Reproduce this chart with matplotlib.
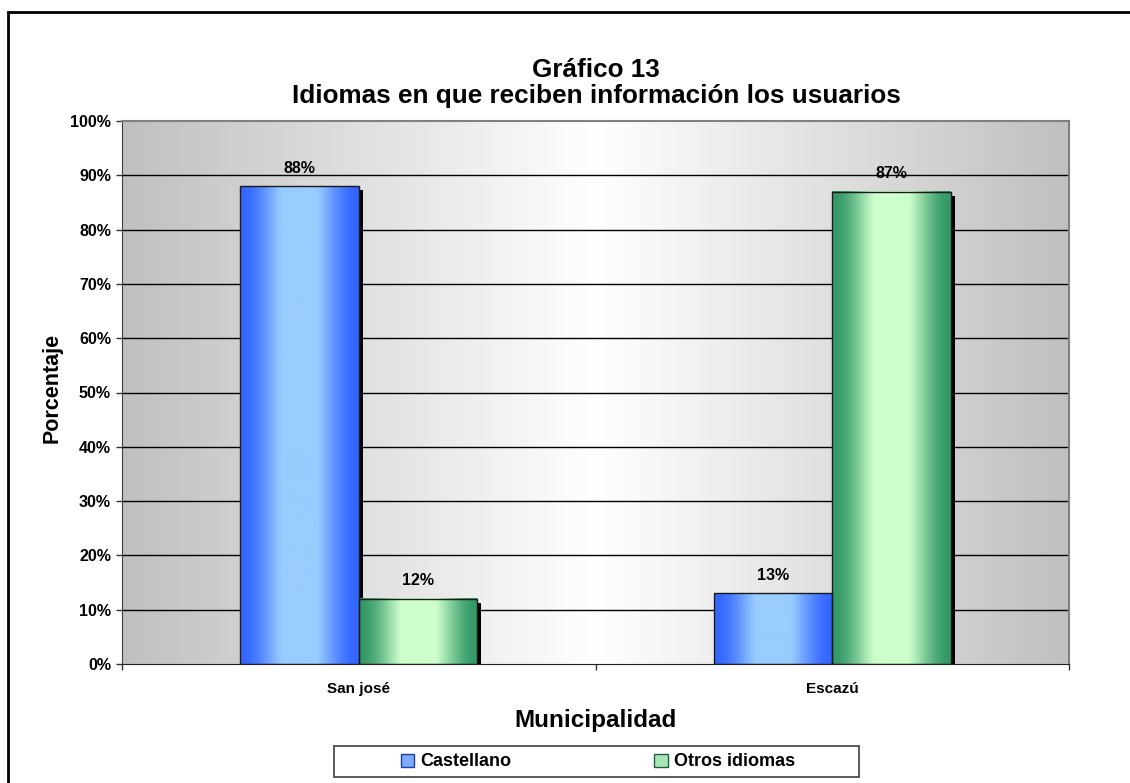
import numpy as np
import matplotlib
matplotlib.use("Agg")
import matplotlib.pyplot as plt
from matplotlib.patches import Rectangle
from matplotlib.colors import LinearSegmentedColormap
import matplotlib.transforms as mtransforms

plt.rcParams['font.family'] = ['Liberation Sans', 'DejaVu Sans']
plt.rcParams['font.weight'] = 'bold'

# ---- data ----
categories = ["San josé", "Escazú"]
series_names = ["Castellano", "Otros idiomas"]
castellano = [88, 13]
otros = [12, 87]
yticks = [0, 10, 20, 30, 40, 50, 60, 70, 80, 90, 100]

W, H = 1130, 783
fig = plt.figure(figsize=(W / 100, H / 100), dpi=100)
fig.patch.set_facecolor('white')

ax = fig.add_axes([122 / W, (H - 664) / H, 947 / W, 543 / H])
ax.set_xlim(-0.5, 1.5)
ax.set_ylim(0, 100)

# background gradient (gray edges, white center)
bg = LinearSegmentedColormap.from_list('bg', ['#C0C0C0', '#FFFFFF', '#C0C0C0'])
grad = np.linspace(0, 1, 512).reshape(1, -1)
ax.imshow(grad, cmap=bg, extent=[-0.5, 1.5, 0, 100], aspect='auto', zorder=0,
          interpolation='bicubic')

# gridlines
for v in yticks[1:-1]:
    ax.axhline(v, color='black', lw=1.0, zorder=1)

bar_w = 0.25
x = np.arange(len(categories))
colors = [('#3366FF', '#99CCFF'), ('#339966', '#CCFFCC')]
series = [castellano, otros]
offsets = [-bar_w / 2, bar_w / 2]

shadow_tr = ax.transData + mtransforms.ScaledTranslation(4 / 100, -4 / 100, fig.dpi_scale_trans)

prof = np.linspace(0, 1, 256)
prof = 0.5 - 0.5 * np.cos(2 * np.pi * prof)
prof = np.clip(prof * 1.25, 0, 1).reshape(1, -1)

for s, vals in enumerate(series):
    cmap = LinearSegmentedColormap.from_list('c%d' % s, list(colors[s]))
    bars = ax.bar(x + offsets[s], vals, width=bar_w, facecolor='none',
                  edgecolor='#1a1a1a', lw=1.0, zorder=4)
    for b in bars:
        bx, by, bw, bh = b.get_x(), b.get_y(), b.get_width(), b.get_height()
        sh = Rectangle((bx, by), bw, bh, facecolor='black', edgecolor='none',
                       transform=shadow_tr, zorder=2)
        ax.add_patch(sh)
        sh.set_clip_box(ax.bbox)
        ax.imshow(prof, cmap=cmap, vmin=0, vmax=1, extent=[bx, bx + bw, by, by + bh],
                  aspect='auto', zorder=3, interpolation='bicubic')
        ax.annotate(f"{bh:.0f}%", (bx + bw / 2, by + bh), xytext=(0, 13),
                    textcoords='offset points', ha='center', va='center',
                    fontsize=11.5, fontweight='bold')

ax.set_xlim(-0.5, 1.5)
ax.set_ylim(0, 100)

# axes
ax.set_yticks(yticks)
ax.set_yticklabels([f"{v}%" for v in yticks], fontsize=11.5, fontweight='bold')
ax.set_xticks([-0.5, 0.5, 1.5])
ax.set_xticklabels([])
ax.set_xticks(x, minor=True)
ax.set_xticklabels(categories, minor=True, fontsize=11, fontweight='bold')
ax.tick_params(axis='x', which='minor', length=0, pad=13)
ax.tick_params(axis='both', which='major', direction='out', length=4, width=1,
               color='#333333', pad=4)
for sp in ['top', 'right']:
    ax.spines[sp].set_color('#808080')
    ax.spines[sp].set_linewidth(1.5)
ax.spines['left'].set_color('#404040')
ax.spines['bottom'].set_color('#202020')
ax.spines['bottom'].set_zorder(5)

ax.set_ylabel("Porcentaje", fontsize=15.5, fontweight='bold')
ax.yaxis.set_label_coords(-59 / 947, 0.508)
ax.set_xlabel("Municipalidad", fontsize=17.5, fontweight='bold', labelpad=9)

fig.text(596 / W, 1 - 77 / H, "Gráfico 13", ha='center', va='baseline',
         fontsize=18.8, fontweight='bold')
fig.text(596 / W, 1 - 103 / H, "Idiomas en que reciben información los usuarios",
         ha='center', va='baseline', fontsize=18.8, fontweight='bold')

# legend
handles = [Rectangle((0, 0), 1, 1, facecolor='#7FA8FF', edgecolor='#1F3F9F'),
           Rectangle((0, 0), 1, 1, facecolor='#A8E6B8', edgecolor='#1F5F3F')]
leg = fig.legend(handles, series_names, ncol=2, loc='center',
                 bbox_to_anchor=(598 / W, 1 - 762 / H),
                 bbox_transform=fig.transFigure, frameon=False,
                 handlelength=0.75, handleheight=0.75, handletextpad=0.35,
                 columnspacing=7.9, borderaxespad=0, borderpad=0,
                 prop={'weight': 'bold', 'size': 13})
fig.add_artist(Rectangle((334 / W, 1 - 777 / H), 525 / W, 31 / H, fill=False,
                         edgecolor='#404040', lw=1.2, transform=fig.transFigure))

# outer frame
fig.add_artist(Rectangle((7.5 / W, -0.1), 1.2, 1 - 12.5 / H + 0.1, fill=False,
                         edgecolor='black', lw=2, transform=fig.transFigure))

fig.savefig("out.png", dpi=100)
